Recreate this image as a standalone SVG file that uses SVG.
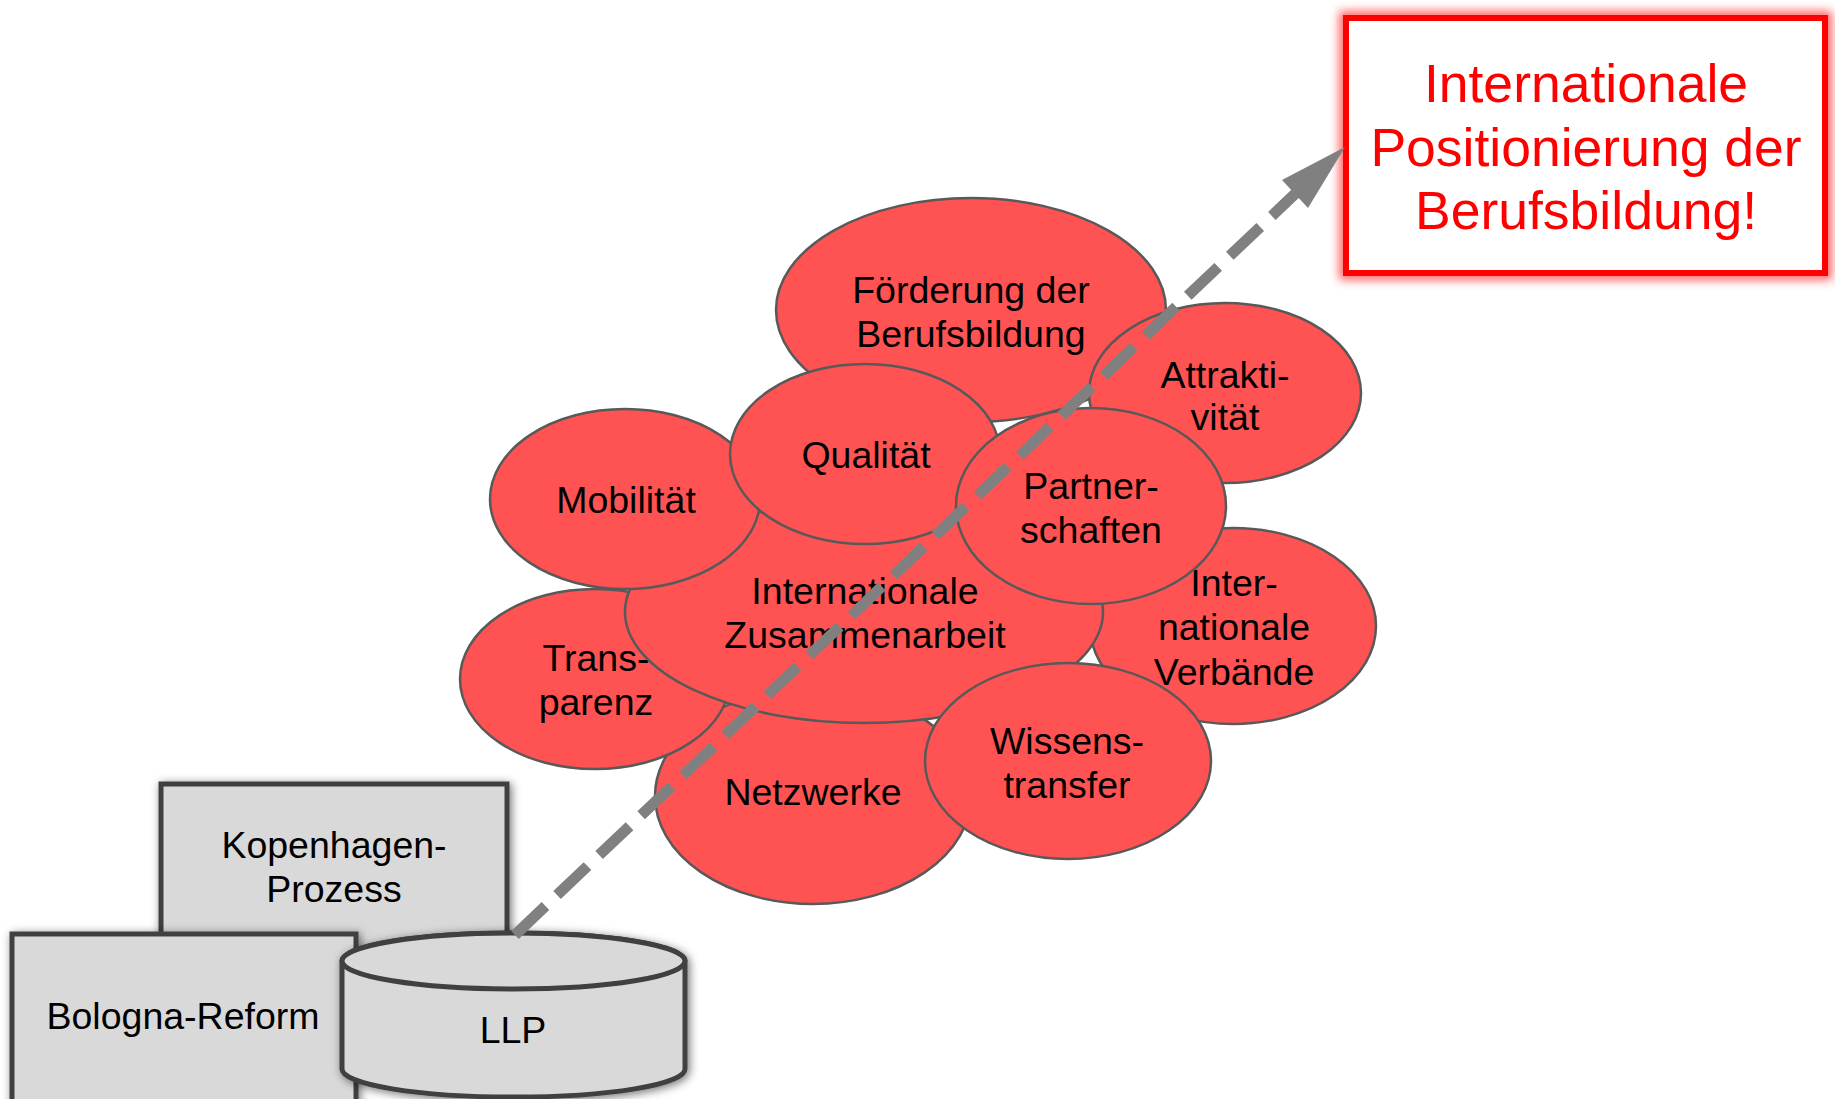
<svg xmlns="http://www.w3.org/2000/svg" width="1835" height="1099" viewBox="0 0 1835 1099">
<defs>
<style>
.bub{fill:#FF5353;stroke:#595959;stroke-width:2.5}
.box{fill:#D9D9D9;stroke:#404040;stroke-width:5}
.t{font-family:"Liberation Sans",Arial,sans-serif;font-size:37.5px;fill:#000;text-anchor:middle}
.rt{font-family:"Liberation Sans",Arial,sans-serif;font-size:53.5px;fill:#FF0000;text-anchor:middle}
</style>
<filter id="sh" x="-20%" y="-20%" width="140%" height="140%">
<feDropShadow dx="2" dy="2" stdDeviation="5" flood-color="#000" flood-opacity="0.55"/>
</filter>
<filter id="glow" x="-10%" y="-20%" width="120%" height="140%">
<feGaussianBlur stdDeviation="5"/>
</filter>
</defs>
<rect width="1835" height="1099" fill="#FFFFFF"/>

<g id="kopenhagen">
<rect class="box" x="161" y="784" width="346" height="200" filter="url(#sh)"/>
<text class="t" x="334" y="858">Kopenhagen-</text>
<text class="t" x="334" y="902">Prozess</text>
</g>
<g id="bologna">
<rect class="box" x="12" y="934" width="344" height="200" filter="url(#sh)"/>
<text class="t" x="183" y="1029">Bologna-Reform</text>
</g>
<g id="llp">
<path class="box" d="M342,961 L342,1069 A171,28 0 0 0 685,1069 L685,961 A171,28 0 0 0 342,961 Z" filter="url(#sh)"/>
<ellipse class="box" cx="513.5" cy="961" rx="171.5" ry="28"/>
<text class="t" x="513" y="1043">LLP</text>
</g>

<g id="foerderung">
<ellipse class="bub" cx="971" cy="310" rx="195" ry="112"/>
<text class="t" x="971" y="303">Förderung der</text>
<text class="t" x="971" y="347">Berufsbildung</text>
</g>
<g id="attraktivitaet">
<ellipse class="bub" cx="1225" cy="393" rx="136" ry="90"/>
<text class="t" x="1225" y="388">Attrakti-</text>
<text class="t" x="1225" y="430">vität</text>
</g>
<g id="netzwerke">
<ellipse class="bub" cx="813" cy="796" rx="158" ry="108"/>
<text class="t" x="813" y="805">Netzwerke</text>
</g>
<g id="transparenz">
<ellipse class="bub" cx="595" cy="679" rx="135" ry="90"/>
<text class="t" x="596" y="671">Trans-</text>
<text class="t" x="596" y="715">parenz</text>
</g>
<g id="verbaende">
<ellipse class="bub" cx="1233" cy="626" rx="143" ry="98"/>
<text class="t" x="1234" y="596">Inter-</text>
<text class="t" x="1234" y="640">nationale</text>
<text class="t" x="1234" y="685">Verbände</text>
</g>
<g id="zusammenarbeit">
<ellipse class="bub" cx="864" cy="612" rx="239" ry="111"/>
<text class="t" x="865" y="604">Internationale</text>
<text class="t" x="865" y="648">Zusammenarbeit</text>
</g>
<g id="mobilitaet">
<ellipse class="bub" cx="625" cy="499" rx="135" ry="90"/>
<text class="t" x="626" y="513">Mobilität</text>
</g>
<g id="qualitaet">
<ellipse class="bub" cx="865" cy="454" rx="135" ry="90"/>
<text class="t" x="866" y="468">Qualität</text>
</g>
<g id="partnerschaften">
<ellipse class="bub" cx="1091" cy="506" rx="135" ry="98"/>
<text class="t" x="1091" y="499">Partner-</text>
<text class="t" x="1091" y="543">schaften</text>
</g>
<g id="wissenstransfer">
<ellipse class="bub" cx="1068" cy="761" rx="143" ry="98"/>
<text class="t" x="1067" y="754">Wissens-</text>
<text class="t" x="1067" y="798">transfer</text>
</g>

<g id="ziel">
<rect x="1346" y="18" width="479" height="255" fill="none" stroke="#FF3030" stroke-width="14" opacity="0.75" filter="url(#glow)"/>
<rect x="1346" y="18" width="479" height="255" fill="#FFFFFF" stroke="#FF0000" stroke-width="6"/>
<text class="rt" x="1586" y="102">Internationale</text>
<text class="rt" x="1586" y="166">Positionierung der</text>
<text class="rt" x="1586" y="229">Berufsbildung!</text>
</g>

<g id="connectors">
<line x1="515" y1="935" x2="1297" y2="192" stroke="#808080" stroke-width="11" stroke-dasharray="42 16"/>
<polygon points="1345,147 1282,180 1308,208" fill="#808080"/>
</g>
</svg>
